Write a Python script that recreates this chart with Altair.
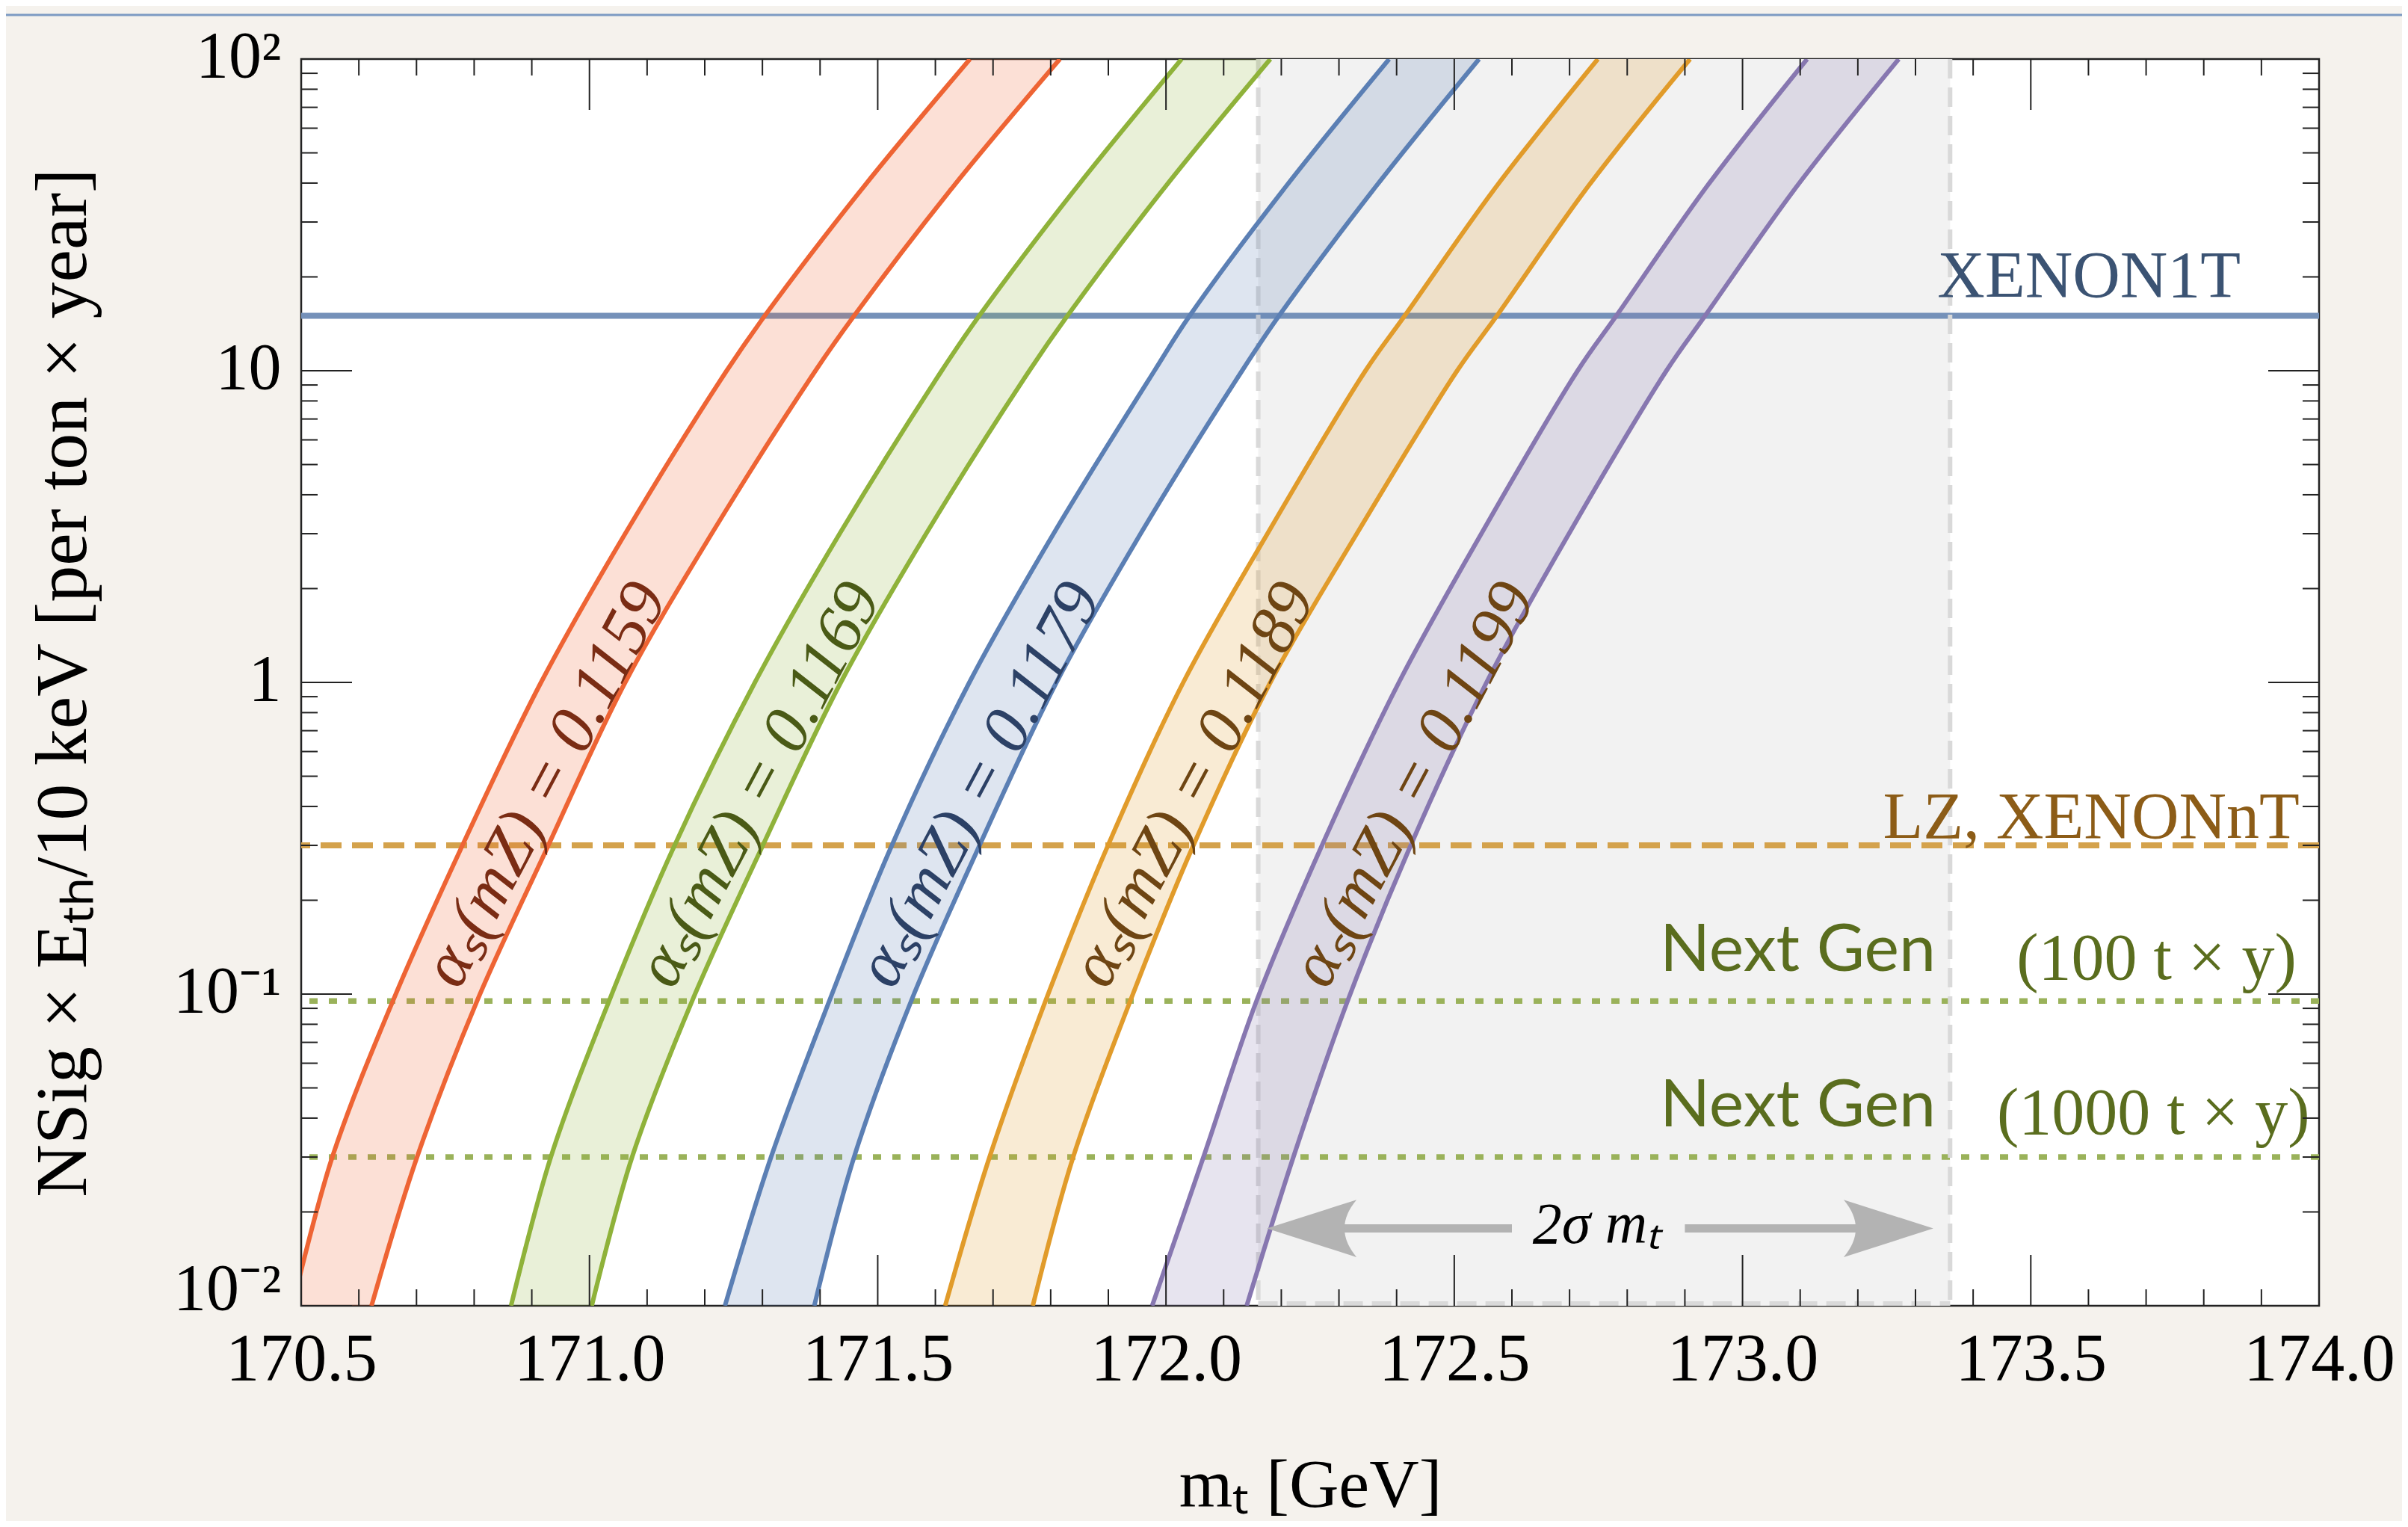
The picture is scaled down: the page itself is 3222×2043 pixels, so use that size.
import altair as alt
import pandas as pd

W, H = 2700, 1668
SERIF = "Liberation Serif"
SANS = "Lato"

# ---------------- data ----------------
x_domain = [170.5, 174.0]
y_domain = [0.01, 100.0]

x_major_ticks = [170.5, 171.0, 171.5, 172.0, 172.5, 173.0, 173.5, 174.0]
x_minor_ticks = [170.6, 170.7, 170.8, 170.9, 171.1, 171.2, 171.3, 171.4,
                 171.6, 171.7, 171.8, 171.9, 172.1, 172.2, 172.3, 172.4,
                 172.6, 172.7, 172.8, 172.9, 173.1, 173.2, 173.3, 173.4,
                 173.6, 173.7, 173.8, 173.9]
y_major_ticks = [0.01, 0.1, 1, 10, 100]
y_tick_labels = ["10⁻²", "10⁻¹", "1", "10", "10²"]
y_minor_ticks = [0.02, 0.03, 0.04, 0.05, 0.06, 0.07, 0.08, 0.09,
                 0.2, 0.3, 0.4, 0.5, 0.6, 0.7, 0.8, 0.9,
                 2, 3, 4, 5, 6, 7, 8, 9,
                 20, 30, 40, 50, 60, 70, 80, 90]

# signal N at which the band edges were read
N_levels = [0.01, 0.03, 0.095, 0.29, 1, 3, 10, 15, 39, 100]

band_names = ["0.1159", "0.1169", "0.1179", "0.1189", "0.1199"]
lo_1159 = [170.485, 170.554, 170.659, 170.776, 170.916, 171.062, 171.238, 171.304, 171.476, 171.660]
hi_1159 = [170.622, 170.701, 170.805, 170.925, 171.062, 171.212, 171.392, 171.459, 171.631, 171.816]
lo_1169 = [170.864, 170.933, 171.034, 171.144, 171.287, 171.434, 171.611, 171.676, 171.846, 172.027]
hi_1169 = [171.004, 171.074, 171.178, 171.297, 171.436, 171.584, 171.763, 171.829, 171.999, 172.181]
lo_1179 = [171.235, 171.315, 171.416, 171.521, 171.659, 171.805, 171.980, 172.041, 172.208, 172.387]
hi_1179 = [171.390, 171.459, 171.558, 171.673, 171.810, 171.956, 172.132, 172.196, 172.364, 172.543]
lo_1189 = [171.617, 171.694, 171.791, 171.896, 172.030, 172.176, 172.346, 172.414, 172.573, 172.749]
hi_1189 = [171.769, 171.839, 171.938, 172.044, 172.181, 172.331, 172.505, 172.574, 172.732, 172.909]
lo_1199 = [171.976, 172.065, 172.157, 172.267, 172.404, 172.547, 172.714, 172.781, 172.938, 173.112]
hi_1199 = [172.140, 172.221, 172.315, 172.421, 172.556, 172.699, 172.868, 172.935, 173.094, 173.271]

band_line_colors = ["#ee6434", "#8fb23a", "#5b7fb4", "#e19b2a", "#8777b0"]
band_label_colors = ["#7a2c14", "#4a5a16", "#2c4166", "#6e4513", "#6e4513"]
band_label_x = [170.924, 171.295, 171.677, 172.048, 172.430]
band_label_N = 0.47

xenon1t_limit = 15.0
lz_limit = 0.30
nextgen100_limit = 0.095
nextgen1000_limit = 0.030

sigma_range = [172.16, 173.36]
arrow_tips = [172.175, 173.331]
arrow_shaft_lo = [172.25, 172.90]
arrow_shaft_hi = [172.60, 173.25]
arrow_level = 0.0177
arrow_label_x = 172.747

# ---------------- tables ----------------
los = [lo_1159, lo_1169, lo_1179, lo_1189, lo_1199]
his = [hi_1159, hi_1169, hi_1179, hi_1189, hi_1199]
rows = []
for name, lo, hi in zip(band_names, los, his):
    for n, a, b in zip(N_levels, lo, hi):
        rows.append({"band": name, "N": n, "lo": a, "hi": b})
bands_df = pd.DataFrame(rows)

labels_df = pd.DataFrame({
    "band": band_names,
    "x": band_label_x,
    "N": [band_label_N] * len(band_names),
    "text": ["αₛ(mZ) = " + b for b in band_names],
})

# ---------------- scales & axes ----------------
xs = alt.Scale(domain=x_domain, nice=False, zero=False)
ys = alt.Scale(type="log", domain=y_domain, nice=False)

thr = [(y_major_ticks[i] * y_major_ticks[i + 1]) ** 0.5 for i in range(len(y_major_ticks) - 1)]
expr = "'" + y_tick_labels[-1] + "'"
for t, lab in reversed(list(zip(thr, y_tick_labels[:-1]))):
    expr = f"datum.value < {t} ? '{lab}' : ({expr})"

X_AXIS = alt.Axis(values=x_major_ticks, format=".1f", ticks=False, domain=False, grid=False,
                  labelFont=SERIF, labelFontSize=90, labelColor="black", labelPadding=28,
                  labelFlush=False, labelOverlap=False, labelLimit=0,
                  title="mₜ [GeV]", titleFont=SERIF, titleFontSize=92, titleFontWeight="normal",
                  titleColor="black", titleY=268, titleBaseline="alphabetic")
Y_AXIS = alt.Axis(values=y_major_ticks, labelExpr=expr, ticks=False, domain=False, grid=False,
                  labelFont=SERIF, labelFontSize=88, labelColor="black", labelPadding=27,
                  labelFlush=False, labelOverlap=False, labelLimit=0,
                  labelOffset={"condition": {"test": f"datum.value < {thr[0]}", "value": -22}, "value": -3},
                  title="NSig × Eₜₕ/10 keV [per ton × year]", titleFont=SERIF, titleFontSize=98,
                  titleFontWeight="normal", titleColor="black", titleX=-318, titleY=H / 2,
                  titleAngle=270, titleAlign="center", titleBaseline="middle", titleLimit=0)


def X(f):
    return alt.X(f, type="quantitative", scale=xs, axis=X_AXIS)


def Y(f):
    return alt.Y(f, type="quantitative", scale=ys, axis=Y_AXIS)


layers = []

# 2 sigma m_t shaded region
sig_df = pd.DataFrame({"lo": [sigma_range[0]], "hi": [sigma_range[1]]})
layers.append(alt.Chart(sig_df).mark_rect(fill="#f2f2f2").encode(x=X("lo"), x2="hi"))

# experimental limits
layers.append(alt.Chart(pd.DataFrame({"y": [xenon1t_limit]}))
              .mark_rule(color="#7591b9", strokeWidth=8).encode(y=Y("y")))
layers.append(alt.Chart(pd.DataFrame({"y": [lz_limit]}))
              .mark_rule(color="#d4a24c", strokeWidth=8, strokeDash=[28, 14]).encode(y=Y("y")))
layers.append(alt.Chart(pd.DataFrame({"y": [nextgen100_limit, nextgen1000_limit]}))
              .mark_rule(color="#9ab25a", strokeWidth=7.5, strokeDash=[11, 15]).encode(y=Y("y")))

# dashed border of the shaded region (sides and bottom)
edge_df = pd.DataFrame({"x": sigma_range})
layers.append(alt.Chart(edge_df).mark_rule(color="#d9d9d9", strokeWidth=6, strokeDash=[26, 12])
              .encode(x=X("x")))
layers.append(alt.Chart(sig_df).mark_rule(color="#d9d9d9", strokeWidth=6, strokeDash=[26, 12])
              .encode(x=X("lo"), x2="hi", y=alt.value(H - 3)))

color_enc = alt.Color("band:N", scale=alt.Scale(domain=band_names, range=band_line_colors), legend=None)

layers.append(alt.Chart(bands_df).mark_area(orient="horizontal", interpolate="catmull-rom",
                                            fillOpacity=0.2, clip=True)
              .encode(y=Y("N"), x=alt.X("lo:Q", scale=xs, axis=X_AXIS, stack=None), x2="hi",
                      color=color_enc))
for col in ["lo", "hi"]:
    layers.append(alt.Chart(bands_df).mark_line(interpolate="catmull-rom", strokeWidth=6, clip=True)
                  .encode(x=X(col), y=Y("N"), color=color_enc, order="N:Q"))

layers.append(alt.Chart(labels_df).mark_text(angle=298, fontSize=90, font=SERIF, fontStyle="italic",
                                             align="center", baseline="middle")
              .encode(x=X("x"), y=Y("N"), text="text:N",
                      fill=alt.Fill("band:N", scale=alt.Scale(domain=band_names, range=band_label_colors),
                                    legend=None)))


def limit_label(xv, yv, text, dy, font, color):
    return (alt.Chart(pd.DataFrame({"x": [xv], "y": [yv], "t": [text]}))
            .mark_text(align="right", baseline="alphabetic", dy=dy, fontSize=88, font=font, color=color)
            .encode(x=X("x"), y=Y("y"), text="t:N"))


layers.append(limit_label(173.864, xenon1t_limit, "XENON1T", -26, SERIF, "#3b5373"))
layers.append(limit_label(173.966, lz_limit, "LZ, XENONnT", -10, SERIF, "#8c5c17"))
layers.append(limit_label(173.335, nextgen100_limit, "Next Gen", -40, SANS, "#5a6d1e"))
layers.append(limit_label(173.961, nextgen100_limit, "(100 t × y)", -29, SERIF, "#5a6d1e"))
layers.append(limit_label(173.335, nextgen1000_limit, "Next Gen", -41, SANS, "#5a6d1e"))
layers.append(limit_label(173.984, nextgen1000_limit, "(1000 t × y)", -31, SERIF, "#5a6d1e"))

# 2 sigma arrow
shaft_df = pd.DataFrame({"lo": arrow_shaft_lo, "hi": arrow_shaft_hi, "y": [arrow_level] * 2})
layers.append(alt.Chart(shaft_df).mark_rule(color="#b3b3b3", strokeWidth=11)
              .encode(x=X("lo"), x2="hi", y=Y("y")))
head_l = "M -1 0 L 1 -0.64 Q 0.46 0 1 0.64 Z"
head_r = "M 1 0 L -1 -0.64 Q -0.46 0 -1 0.64 Z"
layers.append(alt.Chart(pd.DataFrame({"x": [arrow_tips[0]], "y": [arrow_level]}))
              .mark_point(shape=head_l, size=14400, filled=True, fill="#b3b3b3", opacity=1,
                          strokeWidth=0, xOffset=60)
              .encode(x=X("x"), y=Y("y")))
layers.append(alt.Chart(pd.DataFrame({"x": [arrow_tips[1]], "y": [arrow_level]}))
              .mark_point(shape=head_r, size=14400, filled=True, fill="#b3b3b3", opacity=1,
                          strokeWidth=0, xOffset=-60)
              .encode(x=X("x"), y=Y("y")))
layers.append(alt.Chart(pd.DataFrame({"x": [arrow_label_x], "y": [arrow_level], "t": ["2σ mₜ"]}))
              .mark_text(fontSize=78, font=SERIF, fontStyle="italic", color="black",
                         align="center", baseline="middle", dy=-4)
              .encode(x=X("x"), y=Y("y"), text="t:N"))


# inward ticks on all four sides
def xtick(vals, length):
    d = pd.DataFrame({"v": vals})
    bot = alt.Chart(d).mark_rule(color="#222", strokeWidth=2).encode(
        x=X("v"), y=alt.value(H), y2=alt.value(H - length))
    top = alt.Chart(d).mark_rule(color="#222", strokeWidth=2).encode(
        x=X("v"), y=alt.value(0), y2=alt.value(length))
    return [bot, top]


def ytick(vals, length):
    d = pd.DataFrame({"v": vals})
    left = alt.Chart(d).mark_rule(color="#222", strokeWidth=2).encode(
        y=Y("v"), x=alt.value(0), x2=alt.value(length))
    right = alt.Chart(d).mark_rule(color="#222", strokeWidth=2).encode(
        y=Y("v"), x=alt.value(W), x2=alt.value(W - length))
    return [left, right]


layers += xtick(x_major_ticks, 68) + xtick(x_minor_ticks, 22)
layers += ytick(y_major_ticks, 68) + ytick(y_minor_ticks, 22)

# slide decoration line at the top of the page
layers.append(alt.Chart(pd.DataFrame({"a": [0]})).mark_rule(color="#7d9bc3", strokeWidth=3, clip=False)
              .encode(x=alt.value(-395), x2=alt.value(W + 111), y=alt.value(-59)))

chart = (alt.layer(*layers)
         .properties(width=W, height=H,
                     autosize=alt.AutoSizeParams(type="none"),
                     padding={"left": 395, "top": 71, "right": 111, "bottom": 288},
                     background="#f5f2ed")
         .configure_view(stroke="#222", strokeWidth=2.5, fill="white"))

chart.save("out.html", embed_options={"renderer": "svg", "actions": False})
